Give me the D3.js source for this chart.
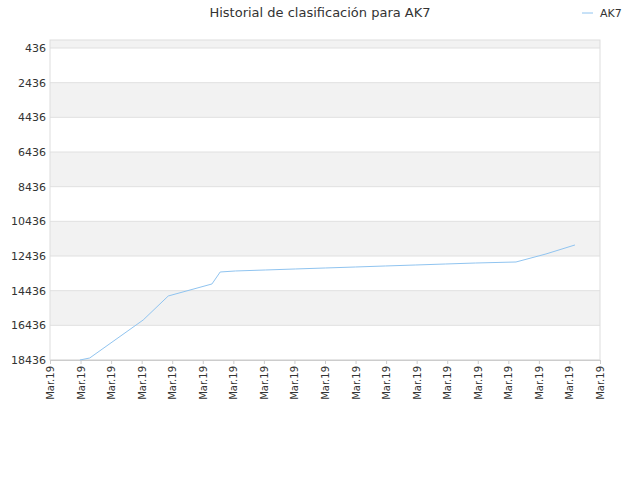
<!DOCTYPE html>
<html><head><meta charset="utf-8">
<script src="https://cdn.jsdelivr.net/npm/d3@7"></script>
<style>body{margin:0;background:#fff}text{font-family:"DejaVu Sans",sans-serif}</style>
</head><body><svg id="c" width="640" height="480"></svg>
<script>
const xLabels = Array(19).fill("Mar.19");
const yTicks = [436,2436,4436,6436,8436,10436,12436,14436,16436,18436];
const xPos = [0.98,1.3,3.05,3.87,5.3,5.57,6.07,7.05,8.03,9.02,10.0,10.98,11.97,12.95,13.93,15.25,16.23,17.18];
const ranks = [18436,18320,16127,14743,14050,13359,13300,13243,13185,13127,13070,13012,12955,12897,12840,12782,12320,11800];

const svg = d3.select("#c");
const L=50,R=600,T=40,B=360;
const x = d3.scaleLinear().domain([0,18]).range([L,R]);
const y = d3.scaleLinear().domain([436,18436]).range([48,B]);
const yTop = y.invert(T);
// bands
const edges=[yTop,...yTicks];
for(let i=0;i<edges.length-1;i++){
  svg.append("rect").attr("x",L).attr("width",R-L).attr("y",y(edges[i])).attr("height",y(edges[i+1])-y(edges[i]))
    .attr("fill",i%2===0?"#f2f2f2":"#ffffff");
}
yTicks.forEach(t=>svg.append("line").attr("x1",L).attr("x2",R).attr("y1",y(t)).attr("y2",y(t)).attr("stroke","#e0e0e0"));
svg.append("rect").attr("x",L).attr("y",T).attr("width",R-L).attr("height",B-T).attr("fill","none").attr("stroke","#dddddd");
svg.append("g").selectAll("text").data(yTicks).join("text").attr("x",L-4).attr("y",d=>y(d)+4)
  .attr("text-anchor","end").attr("font-size",11).attr("fill","#333").text(d=>d);
const xa = svg.append("g").attr("transform",`translate(0,${B})`).call(d3.axisBottom(x).tickValues(d3.range(19)).tickFormat(i=>xLabels[i]).tickSize(4));
xa.select(".domain").attr("stroke","#ccc");
xa.selectAll(".tick line").attr("stroke","#ccc");
xa.selectAll("text").attr("font-size",10).attr("fill","#333").attr("transform","rotate(-90)").attr("text-anchor","end").attr("dx","-0.6em").attr("dy","-0.35em").style("font-family","DejaVu Sans");
svg.append("path").datum(xPos.map((v,i)=>[v,ranks[i]])).attr("fill","none").attr("stroke","#90c4f0").attr("stroke-width",1)
  .attr("d",d3.line().x(d=>x(d[0])).y(d=>y(d[1])));
svg.append("text").attr("x",320).attr("y",17).attr("text-anchor","middle").attr("font-size",13).attr("fill","#333").text("Historial de clasificación para AK7");
svg.append("line").attr("x1",582).attr("x2",593).attr("y1",13).attr("y2",13).attr("stroke","#90c4f0");
svg.append("text").attr("x",600).attr("y",17).attr("font-size",11).attr("fill","#333").text("AK7");
</script></body></html>
